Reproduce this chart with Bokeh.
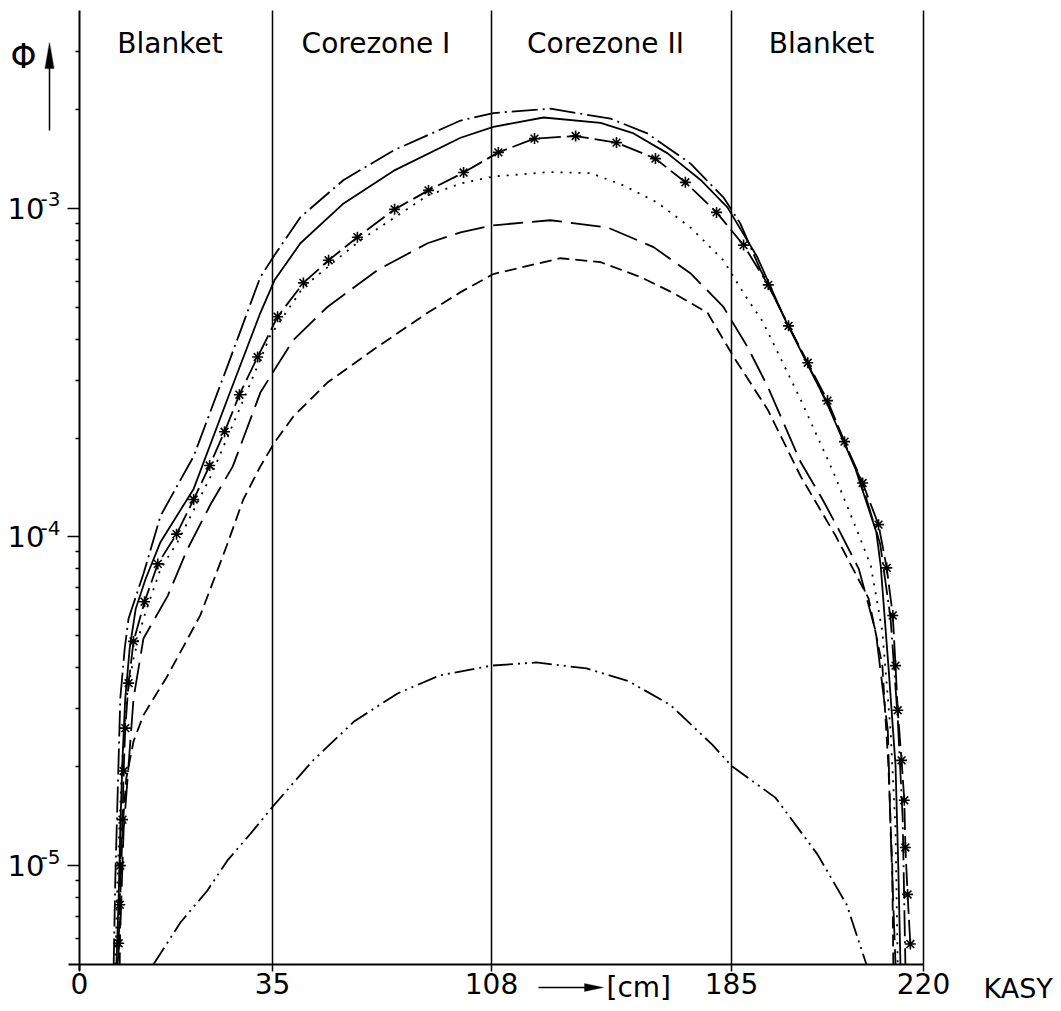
import numpy as np
from bokeh.plotting import figure
from bokeh.models import (Range1d, FixedTicker, CustomJSTickFormatter, Label,
                          PolyAnnotation, Arrow, LinearAxis, LogAxis)
from bokeh.embed import file_html
from bokeh.resources import INLINE

# ---- zones and axis labels -------------------------------------------------
ZONE_EDGES_CM = [0, 35, 108, 185, 220]
ZONE_NAMES = ["Blanket", "Corezone I", "Corezone II", "Blanket"]
TICK_LABELS = ["0", "35", "108", "185", "220"]
Y_DECADES = [1e-5, 1e-4, 1e-3]
Y_EXPONENTS = ["-5", "-4", "-3"]

# ---- flux profiles: radius [cm] and flux ---------------------------------
DASHDOT_X = [6.2, 6.5, 6.9, 7.4, 8.2, 8.9, 11.6, 14.7, 20.7, 26.8, 32.8, 35.7,
             44.3, 58.7, 75.3, 97.7, 108.6, 126.9, 146.2, 158.0, 171.8, 182.4,
             186.6, 190.3, 195.8, 203.0, 208.5, 212.1, 214.0, 215.3, 216.2, 216.7]
DASHDOT_Y = [5.0e-6, 9.2e-6, 1.61e-5, 3.23e-5, 4.58e-5, 5.65e-5, 7.73e-5, 1.16e-4,
             1.76e-4, 3.30e-4, 6.18e-4, 7.21e-4, 9.4e-4, 1.22e-3, 1.50e-3, 1.85e-3,
             1.95e-3, 2.01e-3, 1.875e-3, 1.69e-3, 1.37e-3, 1.08e-3, 9.0e-4, 6.49e-4,
             4.27e-4, 2.44e-4, 1.50e-4, 9.52e-5, 5.65e-5, 2.81e-5, 1.40e-5, 5.0e-6]

SOLID_X = [6.7, 7.1, 7.4, 7.8, 8.3, 9.1, 10.2, 12.0, 14.7, 20.7, 26.8, 32.8,
           35.7, 44.3, 58.7, 75.3, 97.7, 108.6, 124.7, 143.0, 153.6, 164.5,
           175.1, 183.7, 189.7, 194.8, 202.1, 207.6, 211.4, 212.2, 213.6, 214.9,
           215.4, 215.8]
SOLID_Y = [5.0e-6, 8.0e-6, 1.30e-5, 2.12e-5, 3.23e-5, 4.58e-5, 6.05e-5, 7.46e-5,
           9.66e-5, 1.40e-4, 2.62e-4, 4.81e-4, 6.05e-4, 7.83e-4, 1.035e-3, 1.30e-3,
           1.64e-3, 1.77e-3, 1.89e-3, 1.82e-3, 1.69e-3, 1.47e-3, 1.22e-3, 1.007e-3,
           7.11e-4, 4.58e-4, 2.62e-4, 1.61e-4, 1.035e-4, 8.17e-5, 4.06e-5, 2.02e-5,
           1.0e-5, 5.0e-6]

STAR_X = [7.1, 7.3, 7.4, 7.8, 8.0, 8.3, 8.9, 9.8, 11.8, 14.2, 17.6, 20.7, 23.6,
          26.3, 29.0, 32.3, 36.7, 45.3, 53.7, 63.3, 75.7, 87.0, 98.7, 110.2,
          121.8, 135.0, 148.1, 160.6, 170.2, 180.2, 187.2, 191.7, 195.4, 198.9,
          202.5, 205.6, 208.9, 211.8, 213.3, 214.4, 214.9, 215.3, 216.0, 216.5,
          216.7, 217.1, 217.6]
STAR_Y = [5.8e-6, 7.6e-6, 1.0e-5, 1.38e-5, 1.94e-5, 2.62e-5, 3.59e-5, 4.81e-5,
          6.35e-5, 8.28e-5, 1.02e-4, 1.30e-4, 1.65e-4, 2.09e-4, 2.71e-4, 3.53e-4,
          4.68e-4, 5.93e-4, 6.95e-4, 8.17e-4, 9.93e-4, 1.134e-3, 1.285e-3, 1.48e-3,
          1.63e-3, 1.66e-3, 1.585e-3, 1.417e-3, 1.20e-3, 9.72e-4, 7.73e-4, 5.85e-4,
          4.39e-4, 3.39e-4, 2.60e-4, 1.95e-4, 1.46e-4, 1.09e-4, 8.05e-5, 5.77e-5,
          4.06e-5, 2.97e-5, 2.09e-5, 1.58e-5, 1.135e-5, 8.17e-6, 5.77e-6]

DOTTED_X = [6.5, 6.9, 7.6, 8.5, 9.8, 11.6, 14.7, 17.8, 23.8, 29.2, 34.6, 45.3,
            64.3, 86.7, 97.7, 108.6, 126.9, 139.8, 150.3, 161.3, 171.8, 182.4,
            187.2, 190.7, 197.6, 203.6, 208.0, 210.4, 212.5, 214.0, 214.9, 215.3]
DOTTED_Y = [5.0e-6, 9.2e-6, 1.85e-5, 3.23e-5, 4.27e-5, 5.65e-5, 8.0e-5, 9.66e-5,
            1.53e-4, 2.49e-4, 4.1e-4, 5.76e-4, 8.0e-4, 1.094e-3, 1.19e-3, 1.25e-3,
            1.29e-3, 1.28e-3, 1.175e-3, 1.04e-3, 8.75e-4, 6.95e-4, 5.52e-4, 4.52e-4,
            2.62e-4, 1.57e-4, 1.035e-4, 8.17e-5, 5.15e-5, 2.57e-5, 1.28e-5, 5.0e-6]

LONGDASH_X = [6.9, 7.4, 8.0, 8.9, 9.8, 11.6, 16.0, 19.6, 23.8, 27.8, 32.8, 35.7,
              42.0, 53.3, 70.0, 86.7, 97.7, 108.6, 126.9, 145.2, 160.0, 171.8,
              182.4, 187.9, 191.6, 197.6, 201.6, 204.5, 208.2, 211.3, 213.5, 214.0,
              214.9]
LONGDASH_Y = [5.0e-6, 6.35e-6, 1.28e-5, 2.02e-5, 3.23e-5, 4.91e-5, 6.62e-5, 9.2e-5,
              1.26e-4, 1.64e-4, 2.75e-4, 3.23e-4, 3.98e-4, 5.01e-4, 6.49e-4, 7.83e-4,
              8.45e-4, 8.88e-4, 9.2e-4, 8.75e-4, 7.62e-4, 6.35e-4, 5.01e-4, 3.79e-4,
              2.87e-4, 1.69e-4, 1.30e-4, 1.057e-4, 8.0e-5, 5.15e-5, 2.57e-5, 1.28e-5,
              5.0e-6]

SHORTDASH_X = [7.3, 7.4, 7.8, 8.5, 9.8, 11.6, 16.0, 21.9, 26.7, 29.7, 32.8, 35.7,
               42.0, 53.3, 70.0, 86.7, 97.7, 108.6, 130.1, 143.0, 155.8, 166.4,
               177.3, 185.4, 191.6, 197.6, 204.0, 210.0, 212.5, 213.6, 214.3, 214.5]
SHORTDASH_Y = [5.0e-6, 8.0e-6, 1.30e-5, 1.85e-5, 2.39e-5, 2.87e-5, 3.79e-5, 5.77e-5,
               9.4e-5, 1.30e-4, 1.64e-4, 1.94e-4, 2.33e-4, 2.95e-4, 3.79e-4, 4.81e-4,
               5.56e-4, 6.31e-4, 7.05e-4, 6.86e-4, 6.18e-4, 5.52e-4, 4.81e-4, 3.53e-4,
               2.44e-4, 1.53e-4, 1.007e-4, 6.49e-5, 4.06e-5, 2.02e-5, 1.0e-5, 5.0e-6]

DASHDOTDOT_X = [13.4, 18.3, 23.2, 26.8, 31.0, 35.3, 48.3, 62.3, 76.7, 90.7, 108.0,
                122.4, 138.5, 152.0, 165.4, 178.9, 185.0, 193.0, 200.7, 206.0, 209.6]
DASHDOTDOT_Y = [5.0e-6, 6.71e-6, 8.4e-6, 1.035e-5, 1.25e-5, 1.52e-5, 2.08e-5, 2.75e-5,
                3.34e-5, 3.79e-5, 4.06e-5, 4.15e-5, 3.98e-5, 3.64e-5, 3.08e-5, 2.33e-5,
                2.01e-5, 1.61e-5, 1.08e-5, 7.6e-6, 5.0e-6]

# ---- layout ----------------------------------------------------------------
# the radius axis is stretched zone by zone: screen offset of each zone edge
AXIS_STOPS = [0, 193, 412, 652, 844]
PAGE_W, PAGE_H = 1061, 1011
LEFT, TOP, BOTTOM = 79, 10, 964          # page position of the axes box
Y_BOTTOM, Y_TOP = 5e-6, 4e-3
FONT = "DejaVu Sans"


def to_axis(cm):
    return np.interp(np.asarray(cm, dtype=float), ZONE_EDGES_CM, AXIS_STOPS)


def page_x(px):
    return px - LEFT


def page_y(py):
    span = np.log10(Y_TOP / Y_BOTTOM)
    return 10 ** (np.log10(Y_TOP) - (py - TOP) / (BOTTOM - TOP) * span)


# the drawing area covers the whole page; axes sit at fixed data locations
p = figure(width=PAGE_W, height=PAGE_H,
           x_range=Range1d(page_x(0), page_x(PAGE_W)),
           y_range=Range1d(page_y(PAGE_H), page_y(0)),
           y_axis_type="log", x_axis_location=None, y_axis_location=None,
           output_backend="svg", toolbar_location=None,
           min_border_left=0, min_border_right=0, min_border_top=0,
           min_border_bottom=0)
p.outline_line_color = None
p.grid.visible = False
p.background_fill_color = "white"
p.border_fill_color = "white"

# x axis: zone edges
xa = LinearAxis(fixed_location=Y_BOTTOM, bounds=(page_x(68), AXIS_STOPS[-1]))
xa.ticker = FixedTicker(ticks=AXIS_STOPS)
xa.major_label_overrides = {s: t for s, t in zip(AXIS_STOPS, TICK_LABELS)}
xa.axis_line_width = 2
xa.major_tick_out = 7
xa.major_tick_in = 0
xa.major_tick_line_width = 1.5
xa.minor_tick_out = 0
xa.minor_tick_in = 0
xa.major_label_text_font = FONT
xa.major_label_text_font_size = "28px"
xa.major_label_text_color = "black"
xa.major_label_standoff = 1
p.add_layout(xa, "below")

# y axis: decades with 2..9 minor marks; labels drawn separately
minor = [m * 10.0 ** e for e in range(-6, -2) for m in range(2, 10)]
minor = [v for v in minor if Y_BOTTOM < v < Y_TOP]
ya = LogAxis(fixed_location=0, bounds=(page_y(970), Y_TOP))
ya.ticker = FixedTicker(ticks=Y_DECADES, minor_ticks=minor)
ya.formatter = CustomJSTickFormatter(code="return ''")
ya.axis_line_width = 2
ya.major_tick_out = 12
ya.major_tick_in = 0
ya.minor_tick_out = 4
ya.minor_tick_in = 0
ya.major_tick_line_width = 1.5
ya.minor_tick_line_width = 1.5
p.add_layout(ya, "left")

for dec, ex in zip(Y_DECADES, Y_EXPONENTS):
    p.add_layout(Label(x=0, y=dec, x_offset=-35, text="10", text_align="right",
                       text_baseline="middle", text_font=FONT,
                       text_font_size="29px", text_color="black"))
    p.add_layout(Label(x=0, y=dec, x_offset=-39, y_offset=9, text=ex,
                       text_align="left", text_baseline="alphabetic",
                       text_font=FONT, text_font_size="20px", text_color="black"))

# zone boundaries and names
p.segment(x0=AXIS_STOPS[1:], y0=[Y_BOTTOM] * 4, x1=AXIS_STOPS[1:],
          y1=[Y_TOP] * 4, line_color="black", line_width=1.5)
for i, name in enumerate(ZONE_NAMES):
    mid = 0.5 * (AXIS_STOPS[i] + AXIS_STOPS[i + 1]) - 6
    p.add_layout(Label(x=mid, y=page_y(43), text=name, text_align="center",
                       text_baseline="alphabetic", text_font=FONT,
                       text_font_size="28px", text_color="black"))

# flux curves
curves = [
    (DASHDOT_X, DASHDOT_Y, "26 5 2 5"),
    (SOLID_X, SOLID_Y, "solid"),
    (STAR_X, STAR_Y, "22 6"),
    (DOTTED_X, DOTTED_Y, "2 7"),
    (LONGDASH_X, LONGDASH_Y, "30 9"),
    (SHORTDASH_X, SHORTDASH_Y, "12 6"),
    (DASHDOTDOT_X, DASHDOTDOT_Y, "20 5 2 5 2 5"),
]
for xs, ys, dash in curves:
    p.line(to_axis(xs), ys, line_color="black", line_width=1.8, line_dash=dash)
p.scatter(to_axis(STAR_X), STAR_Y, marker="asterisk", size=11,
          line_color="black", line_width=1.6)

# flux symbol with upward arrow
p.add_layout(Label(x=page_x(23), y=page_y(56), text="Φ", text_align="center",
                   text_baseline="middle", text_font=FONT,
                   text_font_size="33px", text_color="black"))
p.add_layout(Arrow(x_start=page_x(49), y_start=page_y(130),
                   x_end=page_x(49), y_end=page_y(62), end=None,
                   line_color="black", line_width=1.5))
p.add_layout(PolyAnnotation(xs=[page_x(49), page_x(44.5), page_x(53.5)],
                            ys=[page_y(42), page_y(68), page_y(68)],
                            fill_color="black", fill_alpha=1.0,
                            line_color="black", line_width=1.5))

# unit marker under the radius axis
p.add_layout(Arrow(x_start=page_x(538), y_start=page_y(987),
                   x_end=page_x(588), y_end=page_y(987), end=None,
                   line_color="black", line_width=1.5))
p.add_layout(PolyAnnotation(xs=[page_x(603), page_x(584), page_x(584)],
                            ys=[page_y(987), page_y(983), page_y(991)],
                            fill_color="black", fill_alpha=1.0,
                            line_color="black", line_width=1))
p.add_layout(Label(x=page_x(606), y=page_y(987), text="[cm]", text_align="left",
                   text_baseline="middle", text_font=FONT,
                   text_font_size="28px", text_color="black"))
p.add_layout(Label(x=page_x(983), y=page_y(988), text="KASY", text_align="left",
                   text_baseline="middle", text_font=FONT,
                   text_font_size="27px", text_color="black"))

open("out.html", "w").write(file_html(p, INLINE))
